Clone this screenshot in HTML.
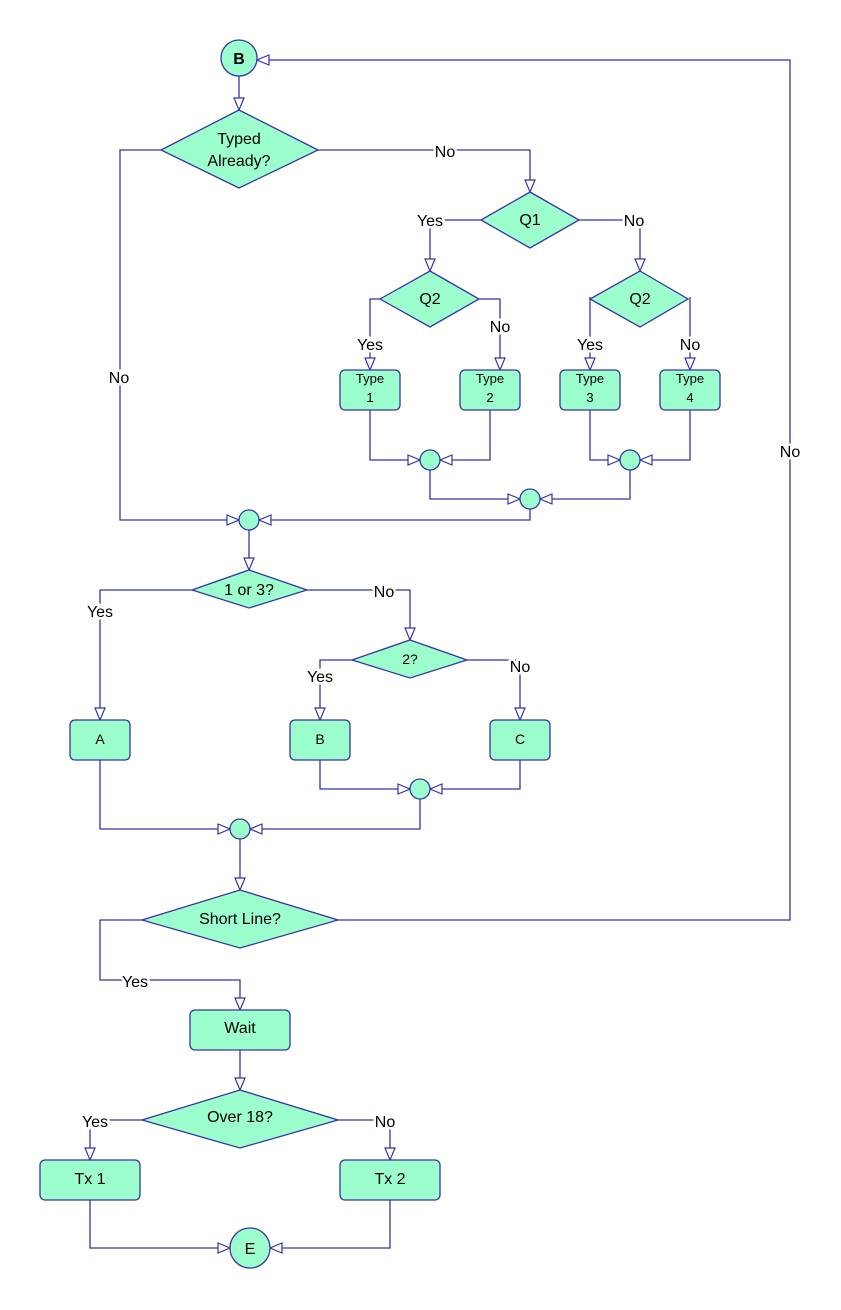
<!DOCTYPE html>
<html><head><meta charset="utf-8"><style>
html,body{margin:0;padding:0;background:#fff;}
svg{display:block;}
text{font-family:"Liberation Sans",sans-serif;fill:#000;}
.l{font-size:16px;paint-order:stroke;stroke:#fff;stroke-width:5px;text-anchor:middle;}
.n{font-size:16px;text-anchor:middle;}
.s{font-size:13px;text-anchor:middle;}
</style></head><body>
<svg width="841" height="1310" viewBox="0 0 841 1310" xmlns="http://www.w3.org/2000/svg">
<defs>
<marker id="a" markerUnits="userSpaceOnUse" markerWidth="14" markerHeight="12" refX="13" refY="6" orient="auto">
<path d="M1,1 L13,6 L1,11 Z" fill="#fff" stroke="#3535a8" stroke-width="1.2"/>
</marker>
</defs>
<g fill="none" stroke="#3535a8" stroke-width="1.3">
<path d="M239,76 V110" marker-end="url(#a)"/>
<path d="M161,150 H120 V520 H239" marker-end="url(#a)"/>
<path d="M318,150 H530 V192" marker-end="url(#a)"/>
<path d="M481,220 H430 V271" marker-end="url(#a)"/>
<path d="M579,220 H640 V271" marker-end="url(#a)"/>
<path d="M380,299 H370 V370" marker-end="url(#a)"/>
<path d="M479,299 H500 V370" marker-end="url(#a)"/>
<path d="M590,297 V370" marker-end="url(#a)"/>
<path d="M690,297 V370" marker-end="url(#a)"/>
<path d="M370,410 V460 H420" marker-end="url(#a)"/>
<path d="M490,410 V460 H440" marker-end="url(#a)"/>
<path d="M590,410 V460 H620" marker-end="url(#a)"/>
<path d="M690,410 V460 H640" marker-end="url(#a)"/>
<path d="M430,470 V499 H520" marker-end="url(#a)"/>
<path d="M630,470 V499 H540" marker-end="url(#a)"/>
<path d="M530,509 V520 H259" marker-end="url(#a)"/>
<path d="M249,530 V570" marker-end="url(#a)"/>
<path d="M192,590 H100 V720" marker-end="url(#a)"/>
<path d="M307,590 H410 V640" marker-end="url(#a)"/>
<path d="M352,660 H320 V720" marker-end="url(#a)"/>
<path d="M467,660 H520 V720" marker-end="url(#a)"/>
<path d="M320,760 V789 H410" marker-end="url(#a)"/>
<path d="M520,760 V789 H430" marker-end="url(#a)"/>
<path d="M100,760 V829 H230" marker-end="url(#a)"/>
<path d="M420,799 V829 H250" marker-end="url(#a)"/>
<path d="M240,839 V890" marker-end="url(#a)"/>
<path d="M338,920 H790 V60 H257" marker-end="url(#a)"/>
<path d="M142,920 H100 V980 H240 V1010" marker-end="url(#a)"/>
<path d="M240,1050 V1090" marker-end="url(#a)"/>
<path d="M142,1120 H90 V1160" marker-end="url(#a)"/>
<path d="M338,1120 H390 V1160" marker-end="url(#a)"/>
<path d="M90,1200 V1248 H230" marker-end="url(#a)"/>
<path d="M390,1200 V1248 H270" marker-end="url(#a)"/>
</g>
<g fill="#9cfdcd" stroke="#3535a8" stroke-width="1.3">
<circle cx="239" cy="58" r="18"/>
<polygon points="239,110 318,150 239,188 161,150"/>
<polygon points="530,192 579,220 530,248 481,220"/>
<polygon points="430,271 479,299 430,327 380,299"/>
<polygon points="640,271 688,299 640,327 590,299"/>
<rect x="340" y="370" width="60" height="40" rx="5"/>
<rect x="460" y="370" width="60" height="40" rx="5"/>
<rect x="560" y="370" width="60" height="40" rx="5"/>
<rect x="660" y="370" width="60" height="40" rx="5"/>
<circle cx="430" cy="460" r="10"/>
<circle cx="630" cy="460" r="10"/>
<circle cx="530" cy="499" r="10"/>
<circle cx="249" cy="520" r="10"/>
<polygon points="249,570 307,590 249,608 192,590"/>
<polygon points="410,640 467,660 410,678 352,660"/>
<rect x="70" y="720" width="60" height="40" rx="5"/>
<rect x="290" y="720" width="60" height="40" rx="5"/>
<rect x="490" y="720" width="60" height="40" rx="5"/>
<circle cx="420" cy="789" r="10"/>
<circle cx="240" cy="829" r="10"/>
<polygon points="240,890 338,920 240,948 142,920"/>
<rect x="190" y="1010" width="100" height="40" rx="5"/>
<polygon points="240,1090 338,1120 240,1148 142,1120"/>
<rect x="40" y="1160" width="100" height="40" rx="5"/>
<rect x="340" y="1160" width="100" height="40" rx="5"/>
<circle cx="250" cy="1248" r="20"/>
</g>
<text x="239" y="64" class="n" font-weight="bold">B</text>
<text x="239" y="144" class="n">Typed</text>
<text x="239" y="166" class="n">Already?</text>
<text x="530" y="225" class="n">Q1</text>
<text x="430" y="304" class="n">Q2</text>
<text x="640" y="304" class="n">Q2</text>
<text x="370" y="383" class="s">Type</text><text x="370" y="402" class="s">1</text>
<text x="490" y="383" class="s">Type</text><text x="490" y="402" class="s">2</text>
<text x="590" y="383" class="s">Type</text><text x="590" y="402" class="s">3</text>
<text x="690" y="383" class="s">Type</text><text x="690" y="402" class="s">4</text>
<text x="249" y="595" class="n">1 or 3?</text>
<text x="410" y="664" class="s" style="font-size:14px">2?</text>
<text x="100" y="744" class="s" style="font-size:14px">A</text>
<text x="320" y="744" class="s" style="font-size:14px">B</text>
<text x="520" y="744" class="s" style="font-size:14px">C</text>
<text x="240" y="924" class="n">Short Line?</text>
<text x="240" y="1033" class="n">Wait</text>
<text x="240" y="1122" class="n">Over 18?</text>
<text x="90" y="1184" class="n">Tx 1</text>
<text x="390" y="1184" class="n">Tx 2</text>
<text x="250" y="1254" class="n">E</text>
<text x="445" y="157" class="l">No</text>
<text x="119" y="383" class="l">No</text>
<text x="430" y="226" class="l">Yes</text>
<text x="634" y="226" class="l">No</text>
<text x="370" y="350" class="l">Yes</text>
<text x="500" y="332" class="l">No</text>
<text x="590" y="350" class="l">Yes</text>
<text x="690" y="350" class="l">No</text>
<text x="100" y="617" class="l">Yes</text>
<text x="384" y="597" class="l">No</text>
<text x="320" y="682" class="l">Yes</text>
<text x="520" y="672" class="l">No</text>
<text x="790" y="457" class="l">No</text>
<text x="135" y="987" class="l">Yes</text>
<text x="95" y="1127" class="l">Yes</text>
<text x="385" y="1127" class="l">No</text>
</svg>
</body></html>
